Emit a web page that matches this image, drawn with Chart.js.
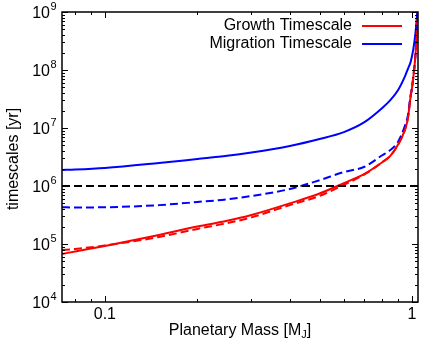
<!DOCTYPE html>
<html><head><meta charset="utf-8">
<script src="https://cdn.jsdelivr.net/npm/chart.js@4/dist/chart.umd.min.js"></script>
<style>html,body{margin:0;padding:0;background:#fff}#wrap{width:436px;height:349px;position:relative}</style>
</head><body><div id="wrap"><canvas id="c"></canvas></div>
<script>
// Planetary mass [M_J]
const mass = [0.0725, 0.08, 0.1, 0.15, 0.2, 0.25, 0.3, 0.4, 0.5, 0.6, 0.7, 0.8, 0.85, 0.9, 0.95, 0.97, 0.99, 1.0, 1.01, 1.02, 1.03, 1.04, 1.05];
// timescales [yr]
const growthSolid    = [6.73e4, 7.43e4, 9.25e4, 1.43e5, 2.0e5, 2.51e5, 3.16e5, 5.01e5, 7.41e5, 1.12e6, 1.62e6, 2.57e6, 3.31e6, 5.13e6, 9.55e6, 1.48e7, 3.55e7, 4.9e7, 7.59e7, 1.23e8, 2.4e8, 6.03e8, 3.2e9];
const growthDashed   = [7.89e4, 8.22e4, 9.44e4, 1.32e5, 1.82e5, 2.29e5, 2.88e5, 4.68e5, 6.76e5, 1.05e6, 1.58e6, 2.57e6, 3.31e6, 5.13e6, 9.55e6, 1.48e7, 3.55e7, 4.9e7, 7.59e7, 1.23e8, 2.4e8, 6.03e8, 3.2e9];
const migrationSolid = [1.89e6, 1.92e6, 2.04e6, 2.49e6, 2.92e6, 3.31e6, 3.78e6, 4.90e6, 6.46e6, 8.51e6, 1.26e7, 2.21e7, 3.02e7, 4.47e7, 7.94e7, 1.05e8, 1.38e8, 1.74e8, 2.29e8, 3.31e8, 5.25e8, 1.0e9, 2.5e9];
const migrationDashed= [4.30e5, 4.27e5, 4.30e5, 4.68e5, 5.30e5, 5.89e5, 6.73e5, 8.87e5, 1.26e6, 1.74e6, 2.15e6, 3.39e6, 4.17e6, 5.75e6, 1.12e7, 1.66e7, 3.72e7, 4.9e7, 7.59e7, 1.23e8, 2.4e8, 6.03e8, 3.2e9];
const thresholdX = [0.0725, 1.046];
const thresholdY = [1e6, 1e6];

const xTickValues = [0.1, 1];
const xTickLabels = ['0.1', '1'];
const yTickValues = [1e4, 1e5, 1e6, 1e7, 1e8, 1e9];
const yTickBase = '10';
const yTickExponents = ['4', '5', '6', '7', '8', '9'];
const legendLabels = ['Growth Timescale', 'Migration Timescale'];
const xTitle = ['Planetary Mass [M', 'J', ']'];
const yTitle = 'timescales [yr]';

const FONT = '"Liberation Sans", Arial, Helvetica, sans-serif';
const pts = (xs, ys) => xs.map((v, i) => ({x: v, y: ys[i]}));

const decor = {
  id: 'decor',
  afterDraw(chart) {
    const {ctx, chartArea: a, scales: {x, y}} = chart;
    ctx.save();
    ctx.strokeStyle = '#000';
    ctx.lineWidth = 1;
    const seg = (x1, y1, x2, y2) => { ctx.beginPath(); ctx.moveTo(x1, y1); ctx.lineTo(x2, y2); ctx.stroke(); };
    for (let d = -2; d <= 0; d++) for (let m = 1; m <= 9; m++) {
      const v = m * Math.pow(10, d);
      if (v < x.min || v > x.max) continue;
      const px = Math.round(x.getPixelForValue(v)) + 0.5, len = m === 1 ? 6 : 3;
      seg(px, a.bottom, px, a.bottom - len);
      seg(px, a.top, px, a.top + len);
    }
    for (let d = 4; d <= 9; d++) for (let m = 1; m <= 9; m++) {
      const v = m * Math.pow(10, d);
      if (v < y.min || v > y.max * 1.0001) continue;
      const py = Math.round(y.getPixelForValue(v)) + 0.5, len = m === 1 ? 6 : 3;
      seg(a.left, py, a.left + len, py);
      seg(a.right, py, a.right - len, py);
    }
    ctx.lineWidth = 1.5;
    ctx.strokeRect(a.left, a.top, a.right - a.left, a.bottom - a.top);

    ctx.fillStyle = '#000';
    yTickValues.forEach((v, i) => {
      const py = y.getPixelForValue(v);
      ctx.font = '16px ' + FONT;
      ctx.textAlign = 'right'; ctx.textBaseline = 'middle';
      ctx.fillText(yTickBase, a.left - 12, py + 1.5);
      ctx.font = '11px ' + FONT;
      ctx.textAlign = 'left';
      ctx.fillText(yTickExponents[i], a.left - 11.5, py - 5);
    });
    ctx.font = '16px ' + FONT;
    ctx.textAlign = 'center'; ctx.textBaseline = 'middle';
    xTickValues.forEach((v, i) => {
      ctx.fillText(xTickLabels[i], x.getPixelForValue(v), a.bottom + 13);
    });
    ctx.font = '16px ' + FONT;
    const w1 = ctx.measureText(xTitle[0]).width, w3 = ctx.measureText(xTitle[2]).width;
    ctx.font = '11px ' + FONT;
    const w2 = ctx.measureText(xTitle[1]).width;
    let sx = (a.left + a.right) / 2 - (w1 + w2 + w3) / 2;
    const ty = a.bottom + 29;
    ctx.textAlign = 'left';
    ctx.font = '16px ' + FONT; ctx.fillText(xTitle[0], sx, ty); sx += w1;
    ctx.font = '11px ' + FONT; ctx.fillText(xTitle[1], sx, ty + 4); sx += w2;
    ctx.font = '16px ' + FONT; ctx.fillText(xTitle[2], sx, ty);
    ctx.save();
    ctx.translate(14, (a.top + a.bottom) / 2 + 2);
    ctx.rotate(-Math.PI / 2);
    ctx.font = '16px ' + FONT; ctx.textAlign = 'center'; ctx.textBaseline = 'middle';
    ctx.fillText(yTitle, 0, 0);
    ctx.restore();
    const colors = ['#ff0000', '#0000ff'];
    legendLabels.forEach((t, i) => {
      const ly = a.top + 14 + i * 18;
      ctx.font = '16px ' + FONT; ctx.textAlign = 'right'; ctx.textBaseline = 'middle';
      ctx.fillText(t, a.right - 66, ly);
      ctx.strokeStyle = colors[i]; ctx.lineWidth = 2;
      seg(a.right - 56, ly, a.right - 16, ly);
    });
    ctx.restore();
  }
};

const common = {pointRadius: 0, borderWidth: 2, fill: false, cubicInterpolationMode: 'monotone', clip: 0};
new Chart(document.getElementById('c'), {
  type: 'line',
  data: {
    datasets: [
      Object.assign({label: 'threshold', data: pts(thresholdX, thresholdY), borderColor: '#000', borderDash: [8, 4]}, common, {cubicInterpolationMode: 'default'}),
      Object.assign({label: 'Growth (dashed)', data: pts(mass, growthDashed), borderColor: '#ff0000', borderDash: [8, 4]}, common),
      Object.assign({label: 'Migration (dashed)', data: pts(mass, migrationDashed), borderColor: '#0000ff', borderDash: [8, 4]}, common),
      Object.assign({label: 'Migration Timescale', data: pts(mass, migrationSolid), borderColor: '#0000ff'}, common),
      Object.assign({label: 'Growth Timescale', data: pts(mass, growthSolid), borderColor: '#ff0000'}, common)
    ]
  },
  options: {
    responsive: true, maintainAspectRatio: false, animation: false, devicePixelRatio: 1,
    layout: {padding: {top: 12, right: 18, left: 0, bottom: 0}},
    plugins: {legend: {display: false}, tooltip: {enabled: false}},
    scales: {
      x: {type: 'logarithmic', min: 0.0725, max: 1.046,
          grid: {display: false}, border: {display: false}, ticks: {display: false},
          afterFit(s) { s.height = 47; }},
      y: {type: 'logarithmic', min: 1e4, max: 1e9,
          grid: {display: false}, border: {display: false}, ticks: {display: false},
          afterFit(s) { s.width = 62; }}
    }
  },
  plugins: [decor]
});
</script>
</body></html>
